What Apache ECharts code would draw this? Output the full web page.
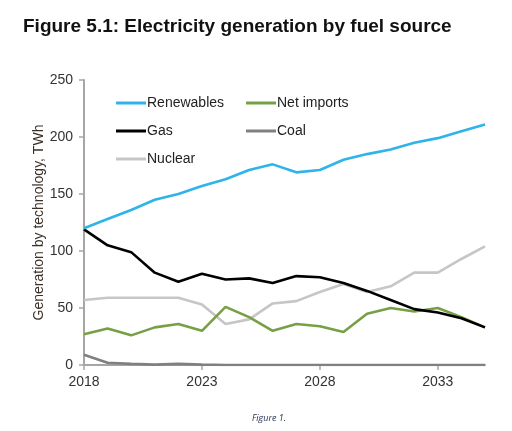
<!DOCTYPE html>
<html>
<head>
<meta charset="utf-8">
<script src="https://cdn.jsdelivr.net/npm/echarts@6/dist/echarts.min.js"></script>
<style>
html,body{margin:0;padding:0;background:#fff;}
#c{width:512px;height:431px;}
</style>
</head>
<body>
<div id="c"></div>
<script>
var years = ['2018','2019','2020','2021','2022','2023','2024','2025','2026','2027','2028','2029','2030','2031','2032','2033','2034','2035'];
var renewables = [120,128,136,145,150,157,163,171,176,169,171,180,185,189,195,199,205,211];
var netImports = [27,32,26,33,36,30,51,42,30,36,34,29,45,50,47,50,42,33];
var gas = [119,105,99,81,73,80,75,76,72,78,77,72,65,57,49,46,41,33];
var coal = [9,2,1,0.3,1,0.3,0,0,0,0,0,0,0,0,0,0,0,0];
var nuclear = [57,59,59,59,59,53,36,40,54,56,64,71,64,69,81,81,93,104];
var yTicks = [0,50,100,150,200,250];

var colors = {Renewables:'#2fb4ea','Net imports':'#76a043',Gas:'#000000',Coal:'#808080',Nuclear:'#c6c6c6'};
var chart = echarts.init(document.getElementById('c'), null, {renderer:'canvas'});
function leg(name, left, top){
  return {data:[name], left:left, top:top, icon:'rect', itemWidth:30, itemHeight:3, itemGap:0,
    textStyle:{fontFamily:'Liberation Sans, Arial', fontSize:14, color:'#222', padding:[0,0,0,-4]}, selectedMode:false, padding:0};
}
function ser(name, data, z){
  return {name:name, type:'line', data:data, symbol:'none', z:z, smooth:false,
    lineStyle:{width:2.6, color:colors[name]}, itemStyle:{color:colors[name]}};
}
chart.setOption({
  animation:false,
  title:{text:'Figure 5.1: Electricity generation by fuel source', left:18, top:12,
    textStyle:{fontFamily:'Liberation Sans, Arial', fontWeight:'bold', fontSize:19, color:'#111'}},
  graphic:[{type:'text', left:252, top:414, style:{text:'Figure 1.', font:'italic 9px "Open Sans", sans-serif', fill:'#1f2f4f'}}],
  legend:[leg('Renewables',116,96), leg('Net imports',246,96), leg('Gas',116,124), leg('Coal',246,124), leg('Nuclear',116,152)],
  grid:{left:84, right:27, top:80, bottom:66, containLabel:false},
  xAxis:{type:'category', data:years, boundaryGap:false,
    axisLine:{lineStyle:{color:'#a6a6a6', width:2}},
    axisTick:{interval:4, length:5, lineStyle:{color:'#a6a6a6', width:1.5}},
    axisLabel:{interval:4, fontFamily:'Liberation Sans, Arial', fontSize:14, color:'#333', margin:10},
    splitLine:{show:false}},
  yAxis:{type:'value', min:0, max:250, interval:50,
    name:'Generation by technology, TWh', nameLocation:'middle', nameGap:38, nameMoveOverlap:false,
    nameTextStyle:{fontFamily:'Liberation Sans, Arial', fontSize:14, color:'#3a3028'},
    axisLine:{show:true, lineStyle:{color:'#a6a6a6', width:2}},
    axisTick:{show:true, length:5, lineStyle:{color:'#a6a6a6', width:1.5}},
    axisLabel:{fontFamily:'Liberation Sans, Arial', fontSize:14, color:'#333', margin:11,
      formatter:function(v){return yTicks.indexOf(v)>=0?String(v):'';}},
    splitLine:{show:false}},
  series:[ser('Nuclear',nuclear,2), ser('Coal',coal,3), ser('Net imports',netImports,4), ser('Gas',gas,5), ser('Renewables',renewables,6)]
});
</script>
</body>
</html>
